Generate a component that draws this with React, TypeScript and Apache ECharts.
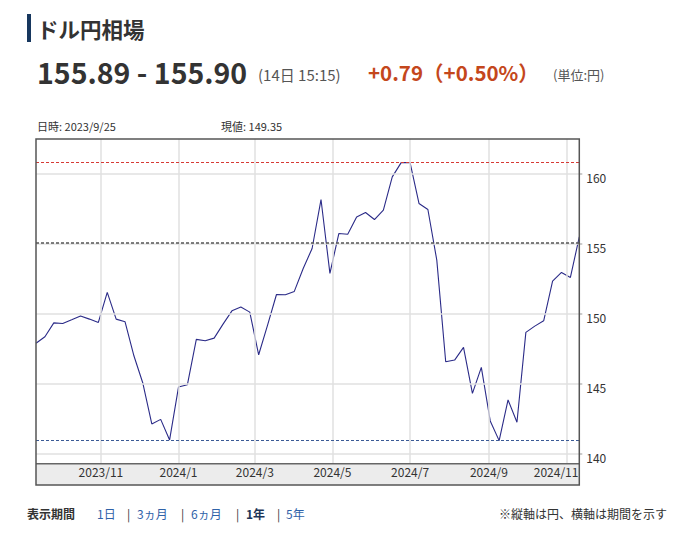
import React, { useEffect, useRef } from "react";
import * as echarts from "echarts";

const dates = [
  "2023-09-11", "2023-09-18", "2023-09-25", "2023-10-02", "2023-10-09", "2023-10-16", "2023-10-23", "2023-10-30",
  "2023-11-06", "2023-11-13", "2023-11-20", "2023-11-27", "2023-12-04", "2023-12-11", "2023-12-18", "2023-12-25",
  "2024-01-01", "2024-01-08", "2024-01-15", "2024-01-22", "2024-01-29", "2024-02-05", "2024-02-12", "2024-02-19",
  "2024-02-26", "2024-03-04", "2024-03-11", "2024-03-18", "2024-03-25", "2024-04-01", "2024-04-08", "2024-04-15",
  "2024-04-22", "2024-04-29", "2024-05-06", "2024-05-13", "2024-05-20", "2024-05-27", "2024-06-03", "2024-06-10",
  "2024-06-17", "2024-06-24", "2024-07-01", "2024-07-08", "2024-07-15", "2024-07-22", "2024-07-29", "2024-08-05",
  "2024-08-12", "2024-08-19", "2024-08-26", "2024-09-02", "2024-09-09", "2024-09-16", "2024-09-23", "2024-09-30",
  "2024-10-07", "2024-10-14", "2024-10-21", "2024-10-28", "2024-11-04", "2024-11-11",
];

const rates = [
  147.89, 148.36, 149.35, 149.31, 149.57, 149.84, 149.62, 149.38,
  151.53, 149.62, 149.43, 146.98, 145.03, 142.12, 142.45, 140.98,
  144.76, 144.93, 148.17, 148.07, 148.26, 149.26, 150.21, 150.48,
  150.12, 147.07, 149.19, 151.38, 151.36, 151.6, 153.24, 154.67,
  158.17, 152.89, 155.74, 155.69, 156.93, 157.24, 156.74, 157.41,
  159.79, 160.81, 160.81, 157.89, 157.46, 153.84, 146.57, 146.69,
  147.6, 144.31, 146.17, 142.34, 140.93, 143.84, 142.24, 148.67,
  149.12, 149.5, 152.34, 152.96, 152.6, 155.5,
];

const yTicks = [140, 145, 150, 155, 160];
const xTicks = ["2023-11-01", "2024-01-01", "2024-03-01", "2024-05-01", "2024-07-01", "2024-09-01", "2024-11-01"];
const refLevel = 155.05;
const yMin = 139.28;
const yMax = 162.5;

const titleText = "ドル円相場";
const priceText = "155.89 - 155.90";
const timeText = "(14日 15:15)";
const changeText = "+0.79（+0.50%）";
const unitText = "(単位:円)";
const hoverLabel = "日時: 2023/9/25";
const valueLabel = "現値: 149.35";
const periodLabel = "表示期間";
const periods = ["1日", "3ヵ月", "6ヵ月", "1年", "5年"];
const activePeriod = "1年";
const noteText = "※縦軸は円、横軸は期間を示す";

const FONT = "'Noto Sans CJK JP', 'Noto Sans', sans-serif";

function ts(s: string): number {
  const [y, m, d] = s.split("-").map(Number);
  return Date.UTC(y, m - 1, d);
}

function fmtDate(v: number): string {
  const d = new Date(v);
  return `${d.getUTCFullYear()}/${d.getUTCMonth() + 1}`;
}

export default function App() {
  const ref = useRef<HTMLDivElement>(null);

  useEffect(() => {
    if (!ref.current) return;
    const chart = echarts.init(ref.current, undefined, { renderer: "svg" });
    const seriesData = dates.map((d, i) => [ts(d), rates[i]]);
    const lastTick = ts(xTicks[xTicks.length - 1]);

    const txt = (text: string, x: number, y: number, size: number, color: string, weight: string = "normal", extra: any = {}) => ({
      type: "text",
      x,
      y,
      z: 50,
      style: { text, fill: color, fontSize: size, fontWeight: weight, fontFamily: FONT, verticalAlign: "middle", align: "left", ...extra },
    });

    const periodPos = [97, 137, 191, 246, 286];
    const sepPos = [127, 181, 236, 277];
    const periodEls: any[] = periods.map((p, i) =>
      txt(p, periodPos[i], 513, 12, p === activePeriod ? "#1d3557" : "#2f62a8", p === activePeriod ? "bold" : "normal")
    );
    const sepEls: any[] = sepPos.map((x) => txt("|", x, 513, 12, "#333"));

    const option: any = {
      animation: false,
      grid: { left: 36, top: 139, width: 543.3, height: 324.7, containLabel: false },
      xAxis: {
        type: "value",
        min: ts(dates[0]),
        max: ts(dates[dates.length - 1]),
        axisLine: { show: false },
        axisTick: { show: false },
        splitLine: { show: false },
        axisLabel: {
          customValues: xTicks.map(ts),
          formatter: (v: number) => (v === lastTick ? `{r|${fmtDate(v)}}` : fmtDate(v)),
          rich: { r: { padding: [0, 21, 0, 0], fontSize: 12, color: "#333", fontFamily: FONT } },
          color: "#333",
          fontSize: 12,
          fontFamily: FONT,
          margin: 2,
        },
      },
      yAxis: {
        type: "value",
        position: "right",
        min: yMin,
        max: yMax,
        axisLine: { show: false },
        axisTick: { show: true, customValues: yTicks, length: 3, lineStyle: { color: "#bbb", width: 1.5 } },
        splitLine: { show: false },
        axisLabel: {
          customValues: yTicks,
          color: "#333",
          fontSize: 12,
          fontFamily: FONT,
          margin: 7,
          verticalAlign: "top",
          lineHeight: 7,
        },
      },
      series: [
        {
          type: "line",
          data: seriesData,
          symbol: "none",
          silent: true,
          z: 1,
          lineStyle: { opacity: 0 },
          markLine: {
            silent: true,
            symbol: "none",
            label: { show: false },
            lineStyle: { color: "#e0e0e0", width: 1.5, type: "solid" },
            data: [
              ...yTicks.map((v) => ({ yAxis: v })),
              ...xTicks.map((d) => ({ xAxis: ts(d) })),
            ],
          },
        },
        {
          type: "line",
          data: seriesData,
          symbol: "none",
          z: 3,
          lineStyle: { color: "#2b2b88", width: 1.1 },
          markLine: {
            silent: true,
            symbol: "none",
            label: { show: false },
            data: [
              { type: "max", lineStyle: { color: "#d63a35", width: 1, type: [3, 2] } },
              { type: "min", lineStyle: { color: "#3b5a96", width: 1, type: [3, 2] } },
              { yAxis: refLevel, lineStyle: { color: "#555", width: 1.5, type: [3, 2] } },
            ],
          },
        },
      ],
      graphic: [
        { type: "rect", z: 50, shape: { x: 27, y: 14, width: 4, height: 28 }, style: { fill: "#17375e" } },
        txt(titleText, 37, 28, 21.5, "#333", "bold"),
        txt(priceText, 37, 71, 28.5, "#333", "bold"),
        txt(timeText, 258, 74, 15, "#555"),
        txt(changeText, 368, 72, 20.5, "#c4471c", "bold"),
        txt(unitText, 553, 74, 13, "#555"),
        txt(hoverLabel, 37, 126, 11, "#333"),
        txt(valueLabel, 221, 126, 11, "#333"),
        { type: "rect", z: -1, shape: { x: 36, y: 463.7, width: 543.3, height: 21.3 }, style: { fill: "#ececec" } },
        { type: "line", z: 60, shape: { x1: 36, y1: 463.7, x2: 579.3, y2: 463.7 }, style: { stroke: "#666", lineWidth: 1.5 } },
        { type: "rect", z: 60, shape: { x: 36, y: 139, width: 543.3, height: 346 }, style: { fill: "none", stroke: "#555", lineWidth: 1.5 } },
        txt(periodLabel, 27, 513, 12, "#333", "bold"),
        ...periodEls,
        ...sepEls,
        txt(noteText, 667, 513, 12, "#333", "normal", { align: "right" }),
      ],
    };

    chart.setOption(option);
    return () => chart.dispose();
  }, []);

  return (
    <div
      ref={ref}
      style={{ position: "fixed", left: 0, top: 0, width: 676, height: 534, background: "#fff" }}
    />
  );
}
